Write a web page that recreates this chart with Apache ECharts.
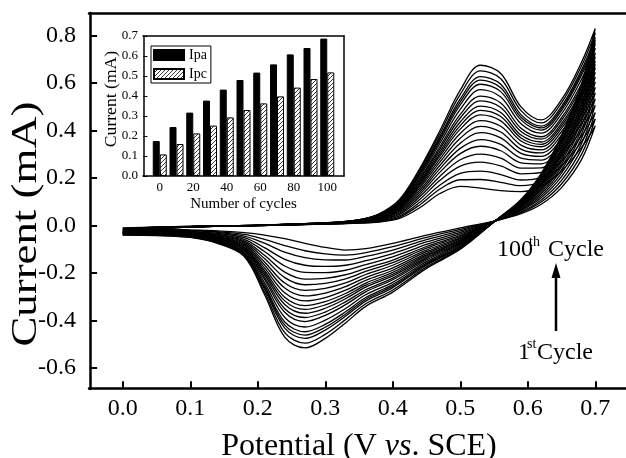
<!DOCTYPE html>
<html><head><meta charset="utf-8">
<script src="https://cdn.jsdelivr.net/npm/echarts@6.0.0/dist/echarts.min.js"></script>
<style>html,body{margin:0;padding:0;background:#fff}#c{width:626px;height:458px}</style>
</head><body><div id="c"></div>
<script>
// ---------- main CV data (currents in mA, rows = potential, columns = cycle) ----------
const cycles = [1,5,10,15,20,25,30,35,40,45,50,55,60,65,70,75,80,85,90,95,100];
const forwardPotential = [0,0.05,0.1,0.2,0.3,0.35,0.38,0.41,0.44,0.47,0.5,0.53,0.56,0.59,0.62,0.65,0.68,0.7];
const forwardCurrent = [
 [-.010,-.012,-.014,-.016,-.018,-.020,-.022,-.024,-.025,-.027,-.028,-.029,-.030,-.031,-.032,-.034,-.035,-.036,-.037,-.039,-.040],
 [-.006,-.007,-.007,-.008,-.008,-.009,-.010,-.010,-.011,-.011,-.011,-.012,-.012,-.012,-.013,-.013,-.014,-.014,-.014,-.015,-.015],
 [-.003,-.003,-.003,-.004,-.004,-.004,-.004,-.004,-.005,-.005,-.005,-.005,-.005,-.005,-.005,-.005,-.006,-.006,-.006,-.006,-.006],
 [.000,.000,.000,.000,.000,.000,.001,.001,.001,.001,.001,.001,.001,.001,.001,.002,.002,.002,.002,.002,.002],
 [.006,.006,.007,.007,.008,.008,.008,.009,.009,.009,.010,.010,.010,.010,.010,.011,.011,.011,.011,.012,.012],
 [.010,.011,.012,.013,.014,.015,.016,.017,.018,.018,.019,.019,.020,.021,.021,.022,.023,.023,.024,.024,.025],
 [.015,.017,.020,.022,.025,.027,.029,.031,.033,.034,.036,.037,.038,.040,.041,.043,.045,.046,.047,.048,.050],
 [.030,.036,.041,.047,.052,.057,.062,.066,.070,.074,.078,.081,.083,.087,.090,.094,.098,.100,.103,.106,.110],
 [.075,.087,.098,.110,.121,.131,.140,.149,.158,.166,.173,.179,.185,.192,.198,.207,.215,.220,.225,.233,.240],
 [.135,.154,.171,.191,.208,.225,.240,.254,.268,.281,.293,.302,.312,.323,.333,.347,.359,.368,.376,.388,.400],
 [.165,.193,.220,.250,.277,.303,.325,.347,.368,.388,.406,.421,.436,.453,.468,.489,.508,.521,.533,.552,.570],
 [.158,.194,.229,.267,.301,.334,.362,.391,.418,.442,.466,.485,.503,.525,.545,.572,.595,.612,.627,.651,.675],
 [.147,.182,.215,.251,.284,.315,.342,.369,.394,.418,.441,.459,.476,.497,.516,.541,.564,.580,.595,.618,.640],
 [.143,.168,.192,.218,.242,.264,.284,.304,.322,.339,.356,.369,.381,.396,.410,.429,.445,.456,.467,.484,.500],
 [.165,.185,.203,.224,.243,.260,.276,.291,.306,.319,.332,.342,.352,.364,.374,.389,.402,.411,.419,.432,.445],
 [.230,.251,.271,.293,.313,.332,.349,.365,.381,.395,.409,.420,.430,.443,.454,.470,.484,.493,.502,.517,.530],
 [.330,.355,.379,.406,.430,.452,.472,.492,.511,.528,.545,.558,.570,.586,.599,.618,.635,.646,.657,.674,.690],
 [.420,.449,.476,.506,.534,.559,.582,.605,.626,.646,.664,.679,.694,.711,.727,.748,.767,.780,.792,.812,.830]
];
const reversePotential = [0.68,0.65,0.62,0.59,0.554,0.5,0.45,0.4,0.36,0.33,0.3,0.27,0.24,0.21,0.18,0.14,0.1,0.05,0];
const reverseCurrent = [
 [.280,.302,.324,.347,.369,.389,.406,.424,.441,.456,.471,.482,.494,.507,.519,.536,.551,.561,.571,.586,.600],
 [.160,.175,.190,.206,.221,.235,.247,.259,.270,.281,.291,.299,.307,.316,.325,.336,.346,.353,.360,.370,.380],
 [.090,.099,.108,.117,.126,.134,.141,.149,.155,.162,.167,.172,.177,.182,.187,.194,.200,.204,.208,.214,.220],
 [.050,.054,.058,.063,.067,.070,.074,.077,.080,.083,.086,.088,.090,.093,.095,.098,.101,.103,.104,.107,.110],
 [.021,.021,.022,.022,.022,.022,.023,.023,.023,.023,.023,.023,.023,.024,.024,.024,.024,.025,.025,.025,.025],
 [-.010,-.016,-.022,-.029,-.035,-.041,-.046,-.051,-.055,-.060,-.064,-.067,-.070,-.074,-.077,-.082,-.086,-.089,-.092,-.096,-.100],
 [-.040,-.050,-.059,-.069,-.079,-.088,-.095,-.103,-.110,-.117,-.123,-.128,-.134,-.139,-.145,-.152,-.158,-.163,-.167,-.174,-.180],
 [-.075,-.089,-.103,-.118,-.132,-.145,-.156,-.167,-.178,-.188,-.197,-.205,-.212,-.221,-.228,-.239,-.248,-.255,-.261,-.271,-.280],
 [-.097,-.114,-.130,-.148,-.164,-.180,-.193,-.206,-.219,-.231,-.242,-.251,-.259,-.270,-.279,-.291,-.303,-.310,-.318,-.329,-.340],
 [-.103,-.124,-.145,-.167,-.188,-.207,-.224,-.241,-.257,-.272,-.286,-.297,-.308,-.321,-.333,-.349,-.363,-.373,-.382,-.396,-.410],
 [-.092,-.119,-.144,-.172,-.198,-.222,-.243,-.264,-.284,-.303,-.320,-.334,-.348,-.364,-.378,-.398,-.416,-.428,-.440,-.458,-.475],
 [-.075,-.106,-.135,-.167,-.197,-.225,-.249,-.273,-.296,-.317,-.337,-.353,-.369,-.387,-.404,-.427,-.447,-.461,-.475,-.495,-.515],
 [-.055,-.084,-.112,-.142,-.170,-.196,-.219,-.242,-.263,-.283,-.302,-.317,-.332,-.350,-.365,-.387,-.406,-.419,-.432,-.451,-.470],
 [-.040,-.058,-.074,-.093,-.109,-.125,-.139,-.153,-.166,-.178,-.189,-.198,-.207,-.218,-.227,-.240,-.252,-.260,-.267,-.279,-.290],
 [-.030,-.037,-.044,-.051,-.058,-.064,-.070,-.075,-.080,-.085,-.090,-.093,-.097,-.101,-.105,-.110,-.115,-.118,-.121,-.126,-.130],
 [-.022,-.026,-.029,-.033,-.037,-.040,-.043,-.046,-.049,-.051,-.054,-.056,-.057,-.060,-.062,-.064,-.067,-.069,-.070,-.073,-.075],
 [-.018,-.020,-.022,-.025,-.027,-.029,-.031,-.032,-.034,-.036,-.037,-.038,-.039,-.041,-.042,-.044,-.045,-.046,-.047,-.049,-.050],
 [-.013,-.015,-.017,-.019,-.021,-.023,-.024,-.026,-.028,-.029,-.030,-.031,-.032,-.034,-.035,-.036,-.038,-.038,-.039,-.041,-.042],
 [-.010,-.012,-.014,-.016,-.018,-.020,-.022,-.024,-.025,-.027,-.028,-.029,-.030,-.031,-.032,-.034,-.035,-.036,-.037,-.039,-.040]
];
// axis ranges and tick steps
const mainXRange = [-0.05, 0.75], mainXStep = 0.1;
const mainYRange = [-0.688, 0.895], mainYStep = 0.2;

// ---------- inset data ----------
const insetCycles = [0,10,20,30,40,50,60,70,80,90,100];
const ipa = [0.175,0.245,0.317,0.377,0.432,0.480,0.517,0.558,0.608,0.640,0.687];
const ipc = [0.108,0.160,0.213,0.252,0.293,0.330,0.363,0.398,0.442,0.485,0.518];
const insetXRange = [-10, 110], insetXStep = 20;

const FONT = '"Liberation Serif","Times New Roman",serif';

function hatch(){
  const c=document.createElement('canvas'); c.width=4; c.height=4;
  const g=c.getContext('2d'); g.fillStyle='#fff'; g.fillRect(0,0,4,4);
  g.strokeStyle='#222'; g.lineWidth=0.9; g.beginPath();
  g.moveTo(0,4); g.lineTo(4,0); g.moveTo(-1,1); g.lineTo(1,-1); g.moveTo(3,5); g.lineTo(5,3);
  g.stroke(); return c;
}

const cvSeries = cycles.map((cyc,k)=>({
  name:'cycle '+cyc, type:'line', xAxisIndex:0, yAxisIndex:0,
  showSymbol:false, symbol:'none', smooth:0.35, silent:true, z:2,
  lineStyle:{color:'#000', width:1.3},
  data: forwardPotential.map((E,j)=>[E, forwardCurrent[j][k]])
        .concat(reversePotential.map((E,j)=>[E, reverseCurrent[j][k]]))
}));

const noTick = {show:false}, noLabel = {show:false};
const f1 = v => v.toFixed(1);
// hidden helper axes whose zero sits at the frame edge (axes below sit "on zero" of them)
const ghost = (grid) => ({type:'value', gridIndex:grid, min:-0.002, max:1, show:false,
  axisLine:{show:false}, axisTick:noTick, axisLabel:noLabel, splitLine:{show:false}});

const chart = echarts.init(document.getElementById('c'), null, {renderer:'canvas'});
chart.setOption({
  animation:false,
  backgroundColor:'#fff',
  grid:[
    {left:89, top:13, width:540, height:376, show:false, outerBoundsMode:'none', containLabel:false},
    {left:143, top:36, width:201, height:140, show:false, outerBoundsMode:'none', containLabel:false}
  ],
  xAxis:[
    {type:'value', gridIndex:0, min:mainXRange[0], max:mainXRange[1], minInterval:mainXStep, maxInterval:mainXStep, position:'bottom', z:8,
     axisLine:{show:true, onZero:true, onZeroAxisIndex:3, lineStyle:{color:'#000', width:2.5}}, splitLine:{show:false},
     axisTick:{show:true, inside:true, length:7, lineStyle:{color:'#000', width:2}},
     axisLabel:{show:true, showMinLabel:false, showMaxLabel:false, formatter:f1, fontSize:24, color:'#000', fontFamily:FONT, margin:8},
     name:'{n|Potential (V }{i|vs}{n|. SCE)}', nameLocation:'middle', nameGap:42,
     nameTextStyle:{rich:{n:{fontSize:32, fontFamily:FONT, color:'#000'}, i:{fontSize:32, fontFamily:FONT, fontStyle:'italic', color:'#000'}}}
    },
    {type:'value', gridIndex:1, min:insetXRange[0], max:insetXRange[1], minInterval:insetXStep, maxInterval:insetXStep, position:'bottom', z:8,
     axisLine:{show:true, onZero:true, onZeroAxisIndex:4, lineStyle:{color:'#000', width:1.5}}, splitLine:{show:false},
     axisTick:{show:true, inside:true, length:4, lineStyle:{color:'#000', width:1}},
     axisLabel:{show:true, showMinLabel:false, showMaxLabel:false, fontSize:13, color:'#000', fontFamily:FONT, margin:5},
     name:'Number of cycles', nameLocation:'middle', nameGap:21,
     nameTextStyle:{fontSize:15, fontFamily:FONT, color:'#000'}
    },
    {type:'value', gridIndex:0, min:mainXRange[0], max:mainXRange[1], position:'top', z:8,
     axisLine:{show:true, onZero:false, lineStyle:{color:'#000', width:2.5}}, axisTick:noTick, axisLabel:noLabel, splitLine:{show:false}},
    {type:'value', gridIndex:1, min:insetXRange[0], max:insetXRange[1], position:'top', z:8,
     axisLine:{show:true, onZero:false, lineStyle:{color:'#000', width:1.5}}, axisTick:noTick, axisLabel:noLabel, splitLine:{show:false}},
    ghost(0),   // xAxis 4
    ghost(1)    // xAxis 5
  ],
  yAxis:[
    {type:'value', gridIndex:0, min:mainYRange[0], max:mainYRange[1], minInterval:mainYStep, maxInterval:mainYStep, position:'left', z:8,
     axisLine:{show:true, onZero:true, onZeroAxisIndex:4, lineStyle:{color:'#000', width:2.5}}, splitLine:{show:false},
     axisTick:{show:true, inside:true, length:7, lineStyle:{color:'#000', width:2}},
     axisLabel:{show:true, showMinLabel:false, showMaxLabel:false, formatter:f1, fontSize:24, color:'#000', fontFamily:FONT, margin:13}
    },
    {type:'value', gridIndex:1, min:0, max:0.7, interval:0.1, position:'left', z:8,
     axisLine:{show:true, onZero:true, onZeroAxisIndex:5, lineStyle:{color:'#000', width:1.5}}, splitLine:{show:false},
     axisTick:{show:true, inside:true, length:4, lineStyle:{color:'#000', width:1}},
     axisLabel:{show:true, formatter:f1, fontSize:13, color:'#000', fontFamily:FONT, margin:5}
    },
    {type:'value', gridIndex:1, min:0, max:0.7, position:'right', z:8,
     axisLine:{show:true, onZero:false, lineStyle:{color:'#000', width:1.5}}, axisTick:noTick, axisLabel:noLabel, splitLine:{show:false}},
    ghost(0),   // yAxis 3
    ghost(1)    // yAxis 4
  ],
  legend:{
    data:['Ipa','Ipc'], orient:'vertical', left:151, top:46, z:10,
    itemWidth:30, itemHeight:10, itemGap:5, padding:[2,4,2,2],
    borderColor:'#000', borderWidth:1, backgroundColor:'#fff', icon:'rect',
    textStyle:{fontSize:14, fontFamily:FONT, color:'#000'}
  },
  series: cvSeries.concat([
    {name:'Ipa', type:'bar', xAxisIndex:1, yAxisIndex:1, barWidth:7, barGap:'0%', z:6,
     itemStyle:{color:'#000', borderColor:'#000', borderWidth:1},
     data: insetCycles.map((c,i)=>[c, ipa[i]])},
    {name:'Ipc', type:'bar', xAxisIndex:1, yAxisIndex:1, barWidth:7, barGap:'0%', z:6,
     itemStyle:{color:{image:hatch(), repeat:'repeat'}, borderColor:'#000', borderWidth:1},
     data: insetCycles.map((c,i)=>[c, ipc[i]])}
  ]),
  graphic:[
    {type:'text', x:27, y:224, rotation:Math.PI/2, scaleX:1.28, scaleY:1, z:10,
     style:{text:'Current (mA)', font:'35px '+FONT, fill:'#000', align:'center', verticalAlign:'middle'}},
    {type:'text', x:112, y:99, rotation:Math.PI/2, scaleX:1.1, z:10,
     style:{text:'Current (mA)', font:'16px '+FONT, fill:'#000', align:'center', verticalAlign:'middle'}},
    {type:'text', x:497, y:250, z:10, style:{text:'100', font:'24px '+FONT, fill:'#000', align:'left', verticalAlign:'middle'}},
    {type:'text', x:529, y:242, z:10, style:{text:'th', font:'14px '+FONT, fill:'#000', align:'left', verticalAlign:'middle'}},
    {type:'text', x:548, y:250, z:10, style:{text:'Cycle', font:'24px '+FONT, fill:'#000', align:'left', verticalAlign:'middle'}},
    {type:'text', x:518, y:353, z:10, style:{text:'1', font:'24px '+FONT, fill:'#000', align:'left', verticalAlign:'middle'}},
    {type:'text', x:527, y:344, z:10, style:{text:'st', font:'14px '+FONT, fill:'#000', align:'left', verticalAlign:'middle'}},
    {type:'text', x:537, y:353, z:10, style:{text:'Cycle', font:'24px '+FONT, fill:'#000', align:'left', verticalAlign:'middle'}},
    {type:'line', z:10, shape:{x1:556, y1:331, x2:556, y2:275}, style:{stroke:'#000', lineWidth:2.5}},
    {type:'polygon', z:10, shape:{points:[[556,263],[551.5,278],[560.5,278]]}, style:{fill:'#000'}}
  ]
});
</script></body></html>
